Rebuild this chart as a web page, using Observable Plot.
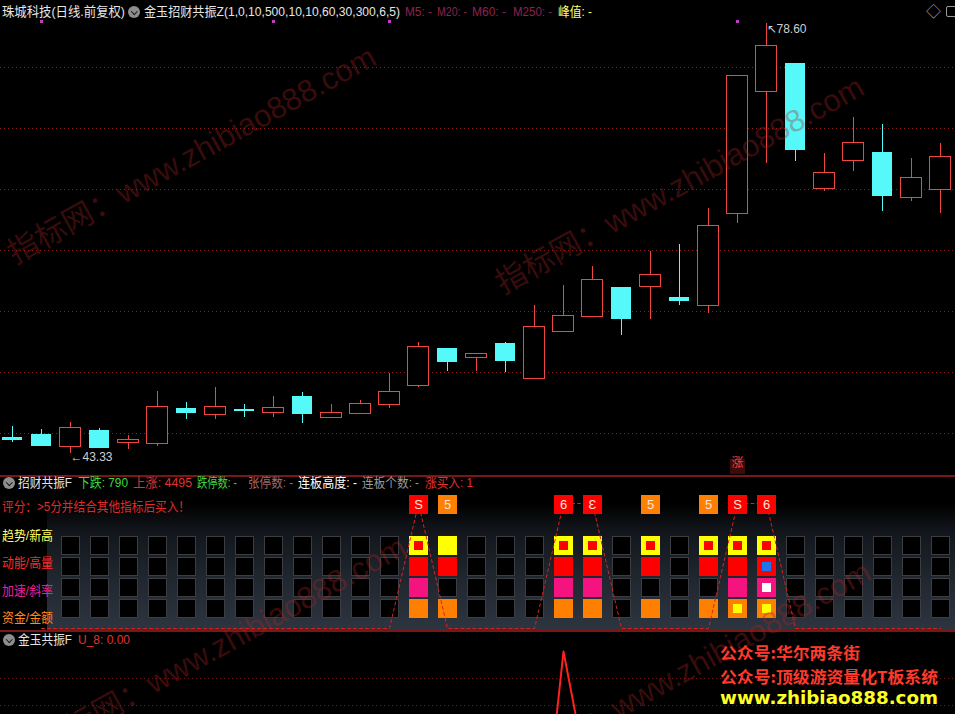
<!DOCTYPE html>
<html>
<head>
<meta charset="utf-8">
<script src="https://cdn.jsdelivr.net/npm/d3@7"></script>
<script src="https://cdn.jsdelivr.net/npm/@observablehq/plot@0.6"></script>
<style>
html,body{margin:0;padding:0;background:#000;overflow:hidden;}
#root{position:relative;width:955px;height:714px;overflow:hidden;background:#000;font-family:"Liberation Sans","Noto Sans CJK SC",sans-serif;}
.t{position:absolute;white-space:nowrap;font-size:13px;line-height:14px;transform-origin:0 50%;}
.icon{position:absolute;width:12px;height:12px;border-radius:50%;background:#8e8e8e;}
.icon::after{content:"";position:absolute;left:3.5px;top:2.5px;width:3.5px;height:3.5px;border-right:1.6px solid #151515;border-bottom:1.6px solid #151515;transform:rotate(45deg);}
.wm{position:absolute;white-space:nowrap;font-family:"Liberation Sans","Noto Sans CJK SC",sans-serif;font-size:31px;line-height:31px;color:rgba(170,35,35,0.34);transform-origin:0 50%;transform:rotate(-29deg);pointer-events:none;}
.plot{position:absolute;left:0;}
</style>
</head>
<body>
<div id="root"></div>
<script>
// ---------------- data ----------------
const opens  = [44.67,44.92,43.93,45.25,44.26,44.10,47.05,46.48,46.97,46.64,48.03,46.23,46.56,47.30,48.93,51.97,51.15,52.38,49.43,53.28,54.51,56.97,56.97,56.15,55.49,63.03,73.03,75.33,65.08,67.30,68.03,64.34,65.00];
const highs  = [45.57,45.33,45.90,45.41,44.84,48.44,47.54,48.77,47.38,48.03,48.36,47.38,47.70,49.92,52.46,51.97,51.56,52.46,55.49,57.13,58.69,56.97,59.92,60.49,63.44,74.34,78.60,75.33,67.95,70.90,70.33,67.54,68.77];
const lows   = [44.26,43.90,43.33,43.77,43.69,43.93,46.15,46.15,46.31,46.31,45.82,46.23,46.56,47.05,48.80,50.08,50.08,50.00,49.43,53.28,54.51,53.03,54.34,55.49,54.84,62.21,67.13,67.30,64.84,66.48,63.20,64.02,63.03];
const closes = [44.43,43.93,45.41,43.77,44.43,47.20,46.64,47.21,46.80,47.05,46.56,46.64,47.38,48.44,52.05,50.82,51.48,50.90,53.77,54.67,57.62,54.34,58.03,55.82,61.97,74.34,76.80,68.20,66.39,68.85,64.43,65.98,67.70];
const gridPrices = [45,50,55,60,65,70,75];
const topMarkIdx = [1,9,13,25];
const buyMarkIdx = [25];
const buyMarkText = "涨";

const stockTitle = "珠城科技(日线.前复权)";
const indicatorTitle = "金玉招财共振Z(1,0,10,500,10,10,60,30,300,6,5)";
const maLabels = ["M5","M20","M60","M250"];
const peakLabel = "峰值";

const panel2Title = "招财共振F";
const statLabels = ["下跌","上涨","跌停数","张停数","连板高度","连板个数","涨买入"];
const statValues = ["790","4495","-","-","-","-","1"];
const scoreNote = "评分：>5分并结合其他指标后买入！";

const rowNames = ["趋势/新高","动能/高量","加速/斜率","资金/金额"];
const gridCols = d3.range(2, 33);
const scoreCols  = [14,15,19,20,22,24,25,26];
const scoreTexts = ["S","5","6","Ɛ","5","5","S","6"];
const trendOn     = [14,15,19,20,22,24,25,26];
const trendInner  = [14,19,20,22,24,25,26];
const momentumOn  = [14,15,19,20,22,24,25,26];
const momentumInner = [26];
const accelOn     = [14,19,20,25,26];
const accelInner  = [26];
const fundOn      = [14,15,19,20,22,24,25,26];
const fundInner   = [25,26];
const buySignal = [null,0,0,0,0,0,0,0,0,0,0,0,0,0,1,0,0,0,0,1,1,0,0,0,0,1,1,0,0,0,0,0,0];

const panel3Title = "金玉共振F";
const u8Label = "U_8: 0.00";
const u8Values = [0,0,0,0,0,0,0,0,0,0,0,0,0,0,0,0,0,0,0,100,44,0,0,0,0,0,0,0,0,0,0,0,0];
const u8Grid = [80,90];

const promoLines = ["公众号:华尔两条街","公众号:顶级游资量化T板系统","www.zhibiao888.com"];
const watermarkText = "指标网：www.zhibiao888.com";

// ---------------- layout helpers ----------------
const root = document.getElementById("root");
const fits = [];
function txt(s, left, cy, color, width, extra) {
  const d = document.createElement("div");
  d.className = "t"; d.textContent = s;
  d.style.left = left + "px"; d.style.top = (cy - 7) + "px"; d.style.color = color;
  if (extra) Object.assign(d.style, extra);
  root.appendChild(d);
  if (width) fits.push([d, width]);
  return d;
}
function applyFits() {
  fits.forEach(([d, w]) => {
    d.style.transform = "none";
    const cw = d.getBoundingClientRect().width;
    if (cw > 0) d.style.transform = "scaleX(" + (w / cw) + ")";
  });
}
function icon(left, cy) {
  const d = document.createElement("div");
  d.className = "icon"; d.style.left = left + "px"; d.style.top = (cy - 6) + "px";
  root.appendChild(d);
}
function place(svg, top) {
  svg.classList.add("plot"); svg.style.top = top + "px"; root.appendChild(svg);
}
function div(style) {
  const d = document.createElement("div"); d.style.position = "absolute";
  Object.assign(d.style, style); root.appendChild(d); return d;
}

const W = 955;
const xScale = {type:"linear", domain:[-12/29, (W - 12)/29], range:[0, W], axis:null};
const RED = "#ee4641", CYAN = "#55f9f9";

// ---------------- main candle panel ----------------
const candles = opens.map((o, i) => ({i, o, h:highs[i], l:lows[i], c:closes[i], up: closes[i] >= opens[i]}));
const ups = candles.filter(d => d.up), downs = candles.filter(d => !d.up);
const lowI = d3.minIndex(lows), highI = d3.maxIndex(highs);

const main = Plot.plot({
  width: W, height: 475, margin: 0,
  style: {background: "transparent"},
  x: xScale,
  y: {domain: [45 - 42/12.2, 45 + 433/12.2], axis: null},
  marks: [
    Plot.ruleY(gridPrices, {stroke: "#8e1d1d", strokeDasharray: "1 3", strokeWidth: 1}),
    Plot.ruleX(ups, {x: "i", y1: "l", y2: "h", stroke: RED, shapeRendering: "crispEdges"}),
    Plot.ruleX(downs, {x: "i", y1: "l", y2: "h", stroke: CYAN, shapeRendering: "crispEdges"}),
    Plot.rect(ups, {x1: d => d.i - 0.36, x2: d => d.i + 0.36, y1: "o", y2: "c", fill: "#000", stroke: RED, shapeRendering: "crispEdges"}),
    Plot.rect(downs, {x1: d => d.i - 0.36, x2: d => d.i + 0.36, y1: "o", y2: "c", fill: CYAN, shapeRendering: "crispEdges"}),
    Plot.text([lowI], {x: d => d, y: d => lows[d], text: d => "←" + lows[d].toFixed(2), textAnchor: "start", dy: 3, fill: "#cfcfcf", fontSize: 12, fontFamily: "Liberation Sans"}),
    Plot.text([highI], {x: d => d, y: d => highs[d], text: d => "↖" + highs[d].toFixed(2), textAnchor: "start", dy: 6, fill: "#cfcfcf", fontSize: 12, fontFamily: "Liberation Sans"}),
    Plot.dot(topMarkIdx, {x: d => d, frameAnchor: "top", dy: 21, symbol: "square", r: 1.7, fill: "#c43cc4"}),
    Plot.dot(buyMarkIdx, {x: d => d, frameAnchor: "bottom", dy: -9, symbol: "square", r: 8.5, fill: "#3e0a0a"}),
    Plot.text(buyMarkIdx, {x: d => d, frameAnchor: "bottom", dy: -9, text: () => buyMarkText, fill: "#ff3b3b", fontSize: 12, fontFamily: "Noto Sans CJK SC"})
  ]
});
place(main, 0);
div({left: "0px", top: "475px", width: W + "px", height: "2px", background: "#7a1616"});

// ---------------- panel 2: score grid ----------------
div({left: "47px", top: "503px", width: (W - 47) + "px", height: "127px",
     background: "linear-gradient(to bottom, #000 0%, #12161c 22%, #1f252d 55%, #2d3540 100%)"});

const cells = rowNames.flatMap(r => gridCols.map(i => ({i, r})));
const toCells = (arr, r) => arr.map(i => ({i, r}));
const grid = Plot.plot({
  width: W, height: 153, margin: 0,
  style: {background: "transparent"},
  x: xScale,
  y: {type: "point", domain: rowNames, range: [56, 142], axis: null},
  marks: [
    Plot.dot(cells, {x: "i", y: "r", symbol: "square", r: 10.1, fill: "#000", stroke: "#3b3d40", strokeWidth: 1.3, shapeRendering: "crispEdges"}),
    Plot.dot(toCells(trendOn, rowNames[0]), {x: "i", y: "r", symbol: "square", r: 11, fill: "#ffff00", shapeRendering: "crispEdges"}),
    Plot.dot(toCells(trendInner, rowNames[0]), {x: "i", y: "r", symbol: "square", r: 5.6, fill: "#ff0000", shapeRendering: "crispEdges"}),
    Plot.dot(toCells(momentumOn, rowNames[1]), {x: "i", y: "r", symbol: "square", r: 11, fill: "#ff0000", shapeRendering: "crispEdges"}),
    Plot.dot(toCells(momentumInner, rowNames[1]), {x: "i", y: "r", symbol: "square", r: 5, fill: "#1f74f0", shapeRendering: "crispEdges"}),
    Plot.dot(toCells(accelOn, rowNames[2]), {x: "i", y: "r", symbol: "square", r: 11, fill: "#f5147f", shapeRendering: "crispEdges"}),
    Plot.dot(toCells(accelInner, rowNames[2]), {x: "i", y: "r", symbol: "square", r: 4.8, fill: "#ffffff", shapeRendering: "crispEdges"}),
    Plot.dot(toCells(fundOn, rowNames[3]), {x: "i", y: "r", symbol: "square", r: 11, fill: "#ff8000", shapeRendering: "crispEdges"}),
    Plot.dot(toCells(fundInner, rowNames[3]), {x: "i", y: "r", symbol: "square", r: 4.6, fill: "#ffff00", shapeRendering: "crispEdges"})
  ]
});
place(grid, 477);

const scoreData = scoreCols.map((i, k) => ({i, s: scoreTexts[k], level: 1}));
const signalData = buySignal.map((v, i) => ({i, v})).filter(d => d.v != null);
const overlay = Plot.plot({
  width: W, height: 153, margin: 0,
  style: {background: "transparent"},
  x: xScale,
  y: {domain: [0, 1], range: [151, 26], axis: null},
  marks: [
    Plot.line(signalData, {x: "i", y: "v", stroke: "#d42222", strokeWidth: 1, strokeDasharray: "3 3"}),
    Plot.dot(scoreData.filter(d => d.s !== "5"), {x: "i", y: "level", dy: 1, symbol: "square", r: 11.2, fill: "#ff0000", shapeRendering: "crispEdges"}),
    Plot.dot(scoreData.filter(d => d.s === "5"), {x: "i", y: "level", dy: 1, symbol: "square", r: 11.2, fill: "#ff7f00", shapeRendering: "crispEdges"}),
    Plot.text(scoreData, {x: "i", y: "level", dy: 1, text: "s", fill: "#ffe4d8", fontSize: 13, fontFamily: "Liberation Sans"})
  ]
});
place(overlay, 477);
div({left: "0px", top: "630px", width: W + "px", height: "2px", background: "#7a1616"});

// ---------------- panel 3 ----------------
const u8Data = u8Values.map((v, i) => ({i, v}));
const p3 = Plot.plot({
  width: W, height: 82, margin: 0,
  style: {background: "transparent"},
  x: xScale,
  y: {domain: [90 - 36/2.7, 90 + 46/2.7], axis: null},
  marks: [
    Plot.ruleY(u8Grid, {stroke: "#6e1a1a", strokeDasharray: "1 3"}),
    Plot.line(u8Data, {x: "i", y: "v", stroke: "#ff2020", strokeWidth: 2, clip: true})
  ]
});
place(p3, 632);

// diagonal watermarks (faint, under the header texts)
[[10, 255], [498, 285], [40, 745], [505, 770]].forEach(([x, y]) => {
  const d = document.createElement("div");
  d.className = "wm"; d.textContent = watermarkText;
  d.style.left = x + "px"; d.style.top = (y - 15) + "px";
  root.appendChild(d);
});

// ---------------- header texts ----------------
txt(stockTitle, 2, 12, "#e6e6e6", 123);
icon(128, 12);
txt(indicatorTitle, 144, 12, "#e6e6e6", 256);
const maLeft = [405, 437, 472, 513], maWidth = [27, 30, 34, 39];
maLabels.forEach((m, k) => txt(m + ": -", maLeft[k], 12, "#8c2352", maWidth[k]));
txt(peakLabel + ": -", 558, 12, "#ffff70", 34);
txt("◇", 926, 12, "#9a9a9a", null, {fontSize: "15px"});
div({left: "946px", top: "6px", width: "12px", height: "11px", border: "1.5px solid #9a9a9a", borderRadius: "2px", boxSizing: "border-box"});

icon(3, 483);
txt(panel2Title, 18, 483, "#e6e6e6", 54);
const statLeft = [78, 133, 197, 248, 298, 362, 425];
const statWidth = [50, 59, 40, 45, 59, 57, 48];
const statColor = ["#3fd83f", "#e03232", "#3fd83f", "#a06a6a", "#ffffff", "#9a9a9a", "#e03232"];
statLabels.forEach((l, k) => txt(l + ": " + statValues[k], statLeft[k], 483, statColor[k], statWidth[k]));
txt(scoreNote, 2, 507, "#e02a2a", 188);

const rowColors = ["#ffff66", "#ff2b2b", "#e8209a", "#ff8a1e"];
const rowY = [536, 563, 591, 618];
rowNames.forEach((r, k) => txt(r, 2, rowY[k], rowColors[k], 51));

icon(3, 640);
txt(panel3Title, 18, 640, "#e6e6e6", 54);
txt(u8Label, 78, 640, "#e03232", 52);

// promo overlay
txt(promoLines[0], 720, 652, "#ff3a2c", 140, {fontSize: "16px", fontWeight: "bold", fontFamily: "Noto Sans CJK SC", lineHeight: "16px", top: "644px"});
txt(promoLines[1], 720, 676, "#ff3a2c", 218, {fontSize: "16px", fontWeight: "bold", fontFamily: "Noto Sans CJK SC", lineHeight: "16px", top: "668px"});
txt(promoLines[2], 720, 698, "#ffff22", 218, {fontSize: "18px", fontWeight: "bold", fontFamily: "DejaVu Sans", lineHeight: "18px", top: "689px"});

applyFits();
if (document.fonts && document.fonts.ready) document.fonts.ready.then(applyFits);
</script>
</body>
</html>
